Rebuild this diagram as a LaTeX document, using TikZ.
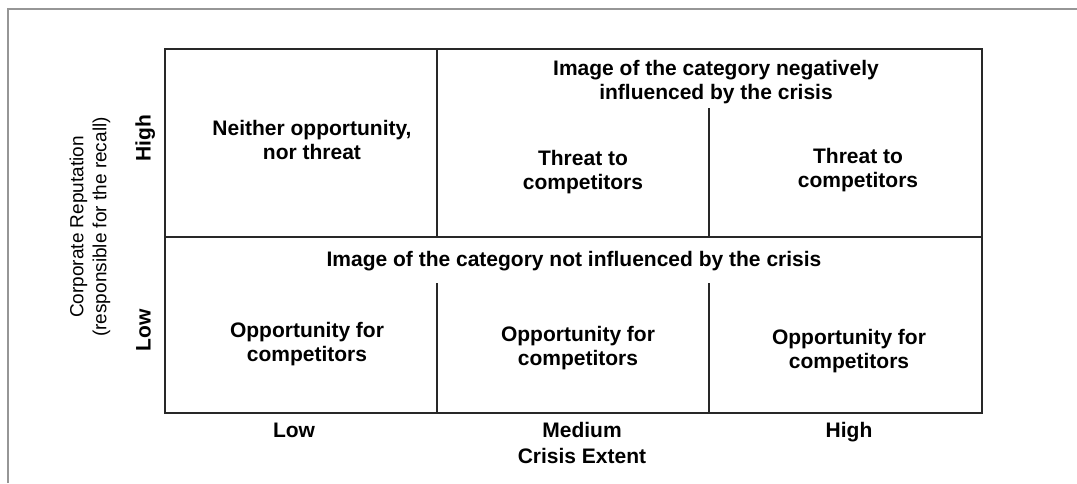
\documentclass[tikz,border=0pt]{standalone}
\usepackage{fontspec}
\setmainfont{Liberation Sans}
\usetikzlibrary{positioning}
\definecolor{framegray}{RGB}{150,150,150}
\definecolor{gridline}{RGB}{40,40,40}

\begin{document}
\begin{tikzpicture}[x=1pt,y=-1pt,
  cell/.style={font=\fontsize{21}{24.5}\selectfont\bfseries,align=center,inner sep=0pt},
  axislab/.style={font=\fontsize{21}{24.5}\selectfont\bfseries,inner sep=0pt,anchor=base},
  ylab/.style={font=\fontsize{19}{23}\selectfont,align=center,inner sep=0pt,rotate=90},
  grid/.style={draw=gridline,line width=1.3pt}]
\useasboundingbox (0,0) rectangle (1077,483);
\draw[framegray,line width=1.6pt] (8,483) -- (8,9) -- (1077,9);

\draw[grid] (165,49) rectangle (982,413);
\draw[grid] (165,237) -- (982,237);
\draw[grid] (437,49) -- (437,237);
\draw[grid] (709,108) -- (709,237);
\draw[grid] (437,283) -- (437,413);
\draw[grid] (709,283) -- (709,413);

\node[cell] (neither) at (312,140) {Neither opportunity,\\nor threat};
\node[cell] (neghead) at (716,82) {Image of the category negatively\\influenced by the crisis};
\node[cell] (threatM) at (583,172) {Threat to\\competitors};
\node[cell] (threatH) at (858,170) {Threat to\\competitors};
\node[cell] (nothead) at (574,261) {Image of the category not influenced by the crisis};
\node[cell] (oppL) at (307,344) {Opportunity for\\competitors};
\node[cell] (oppM) at (578,348) {Opportunity for\\competitors};
\node[cell] (oppH) at (849,351) {Opportunity for\\competitors};

\node[axislab] (xlow) at (294,437.5) {Low};
\node[axislab] (xmed) at (582,437.5) {Medium};
\node[axislab] (xhigh) at (849,437.5) {High};
\node[axislab] (xtitle) at (582,463.5) {Crisis Extent};

\node[axislab,rotate=90] (yhigh) at (150.5,138) {High};
\node[axislab,rotate=90] (ylow) at (150.5,330) {Low};
\node[ylab] (ytitle) at (90,227) {Corporate Reputation\\(responsible for the recall)};

\end{tikzpicture}
\end{document}
